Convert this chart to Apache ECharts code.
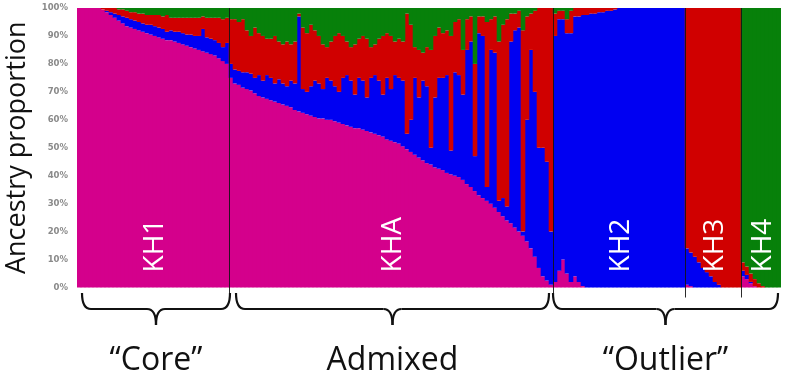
<!DOCTYPE html>
<html><head><meta charset="utf-8">
<script src="https://cdn.jsdelivr.net/npm/echarts@6/dist/echarts.min.js"></script>
<style>html,body{margin:0;padding:0;background:#fff;}#c{width:789px;height:390px;}</style>
</head><body><div id="c"></div>
<script>
// Groups of individuals (left to right)
const groupNames = ['KH1', 'KHA', 'KH2', 'KH3', 'KH4'];
const groupSizes = [38, 81, 33, 14, 10];
const sectionNames = ['\u201cCore\u201d', 'Admixed', '\u201cOutlier\u201d'];
const yTicks = [0, 10, 20, 30, 40, 50, 60, 70, 80, 90, 100];
const clusterNames = ['Cluster 1', 'Cluster 2', 'Cluster 3', 'Cluster 4'];
const clusterColors = ['#D4008C', '#0000F2', '#D00000', '#07800A'];

// Ancestry proportions (%) per individual, one array per cluster
const pink = [
  100,100,100,100,100,100,99.5,98.5,97.5,96.5,95.5,94.5,93.5,93,92.5,92,91.5,91,90.5,90,89.5,89,88.5,88.5,88,87.5,87,86.5,86,85.5,85,84.5,84,83.5,83,82,81,80,
  75,73,72.5,71.5,71,70.5,69.5,68.5,68,67.5,67,66.5,66,65.5,65,64.5,63.5,63,62.5,62,61.5,61,60.5,60.5,60,60,59.5,59,58.5,58,57.5,57,57,56.5,56,55.5,55,54.5,54,53,52.5,52,51.5,50.5,49.5,48.5,47.5,46.5,45.5,44.5,44,43,42.5,42,41,40.5,40,39.5,38.5,37,36,34.5,33,32,31,30,28.5,27,25.5,24,23,21.5,20,18.5,16.5,14,11,7,4,2.5,1,
  2,6,10,5,2,4,2,0.5,0,0,0,0,0,0,0,0,0,0,0,0,0,0,0,0,0,0,0,0,0,0,0,0,0,
  1,0.5,0,0,0,0,0,0,0,0,0,0,0,0,
  4,3,1.5,0.5,0,0,0,0,0,0
];
const blue = [
  0,0,0,0,0,0,0,0.5,1,1.5,2,2.5,3,3,3,3,3,3,3.5,3.5,3.5,3.5,3,3.5,3.5,4,4,4,4.5,4.5,5,8,5.5,5.5,5.5,5.5,5,7.5,
  5,5,5,5.5,6,6,5.5,7.5,6,8.5,8,6.5,8.5,7.5,7,9.5,9.5,34,8.5,8,10.5,13,12.5,10.5,15,14,12.5,11,16.5,18,16.5,12,18,17.5,12,19.5,21,19.5,15,22,18.5,24,23.5,23.5,5.5,11.5,27.5,21.5,28.5,27.5,6,25,32.5,33,35,8.5,37,36.5,30.5,48,52,12.5,58,58,5,55,55.5,4,6.5,5,65,70.5,73,1.5,43.5,71,59,43,46,42.5,19,
  88,90,86,86,89,93,95,97,97.5,98,98,98.5,98.5,99,99,99.5,100,100,100,100,100,100,100,100,100,100,100,100,100,100,100,100,100,
  13,12,11,9,7,5.5,4,2,1,0,0,0,0,0,
  2,1.5,0.5,0,0,0,0,0,0,0
];
const red = [
  0,0,0,0,0,0,0.5,1,1.5,2,2,2.5,2.5,2.5,3,3,3.5,3.5,3.5,4,4.5,4.5,6,4.5,5,5,5.5,6,6,6.5,6.5,4.5,7,7.5,8,9,10,9,
  16,18,17.5,19,15,13.5,18,15,16,13,14,17,13.5,14,16,13,15,1,22,21,22,18,17,16,11,14,18,21,15,12,12,18,14,16,21,11,11,15,21,16,19,12,14,14,43,34,11,17,10,14,35,22,18,16,16,41,18,20,16,11,9,33,6,7,59,11,13,57,62,67,10,6,6,72,37,13,29,50,50,55,80,
  8,3,3,5,8,3,3,2.5,2.5,2,2,1.5,1.5,1,1,0.5,0,0,0,0,0,0,0,0,0,0,0,0,0,0,0,0,0,
  86,87.5,89,91,93,94.5,96,98,99,100,100,100,100,100,
  3,3,3,2.5,1.5,0.5,0,0,0,0
];
const green = [
  0,0,0,0,0,0,0,0,0,0,0.5,0.5,1,1.5,1.5,2,2,2.5,2.5,2.5,2.5,3,2.5,3.5,3.5,3.5,3.5,3.5,3.5,3.5,3.5,3,3.5,3.5,3.5,3.5,4,3.5,
  4,4,5,4,8,10,7,9,10,11,11,10,12,13,12,13,12,2,7,9,6,8,10,13,14,12,10,9,10,12,14,13,11,10,11,14,13,11,10,9,10,12,11,12,2,6,14,15,16,14,15,10,7,9,8,10,5,4,15,4,3,20,3,3,5,4,3,12,6,4,2,2,1,8,3,2,1,0,0,0,0,
  2,1,1,4,1,0,0,0,0,0,0,0,0,0,0,0,0,0,0,0,0,0,0,0,0,0,0,0,0,0,0,0,0,
  0,0,0,0,0,0,0,0,0,0,0,0,0,0,
  91,92.5,95,97,98.5,99.5,100,100,100,100
];

// category labels (individual ids)
const individuals = [];
groupNames.forEach((g, gi) => { for (let k = 1; k <= groupSizes[gi]; k++) individuals.push(g + '-' + k); });

const chart = echarts.init(document.getElementById('c'), null, { renderer: 'canvas' });
const FONT = '"Open Sans", "Noto Sans", sans-serif';
const seriesData = [pink, blue, red, green];

chart.setOption({
  animation: false,
  backgroundColor: '#fff',
  grid: { left: 77, right: 8, top: 8, bottom: 102.5, containLabel: false, outerBoundsMode: 'none' },
  xAxis: {
    type: 'category', data: individuals,
    axisLine: { show: false }, axisTick: { show: false }, axisLabel: { show: false }, splitLine: { show: false }
  },
  yAxis: {
    type: 'value', min: 0, max: 100, interval: 10,
    name: 'Ancestry proportion', nameLocation: 'middle', nameRotate: 90, nameGap: 40,
    nameTextStyle: { fontFamily: FONT, fontSize: 27, color: '#111' },
    axisLine: { show: false }, axisTick: { show: false }, splitLine: { show: false },
    axisLabel: { formatter: '{value}%', fontSize: 8.5, color: '#8a8a8a', fontFamily: 'DejaVu Sans', fontWeight: 'bold', margin: 9 }
  },
  series: clusterNames.map((n, si) => ({
    name: n, type: 'bar', stack: 'q', data: seriesData[si],
    barWidth: 4.6,
    itemStyle: { color: clusterColors[si], borderWidth: 0 },
    emphasis: { disabled: true }
  }))
});

function drawAnnotations() {
  const px = i => chart.convertToPixel({ xAxisIndex: 0 }, individuals[i]);
  const band = px(1) - px(0);
  const yTop = chart.convertToPixel({ yAxisIndex: 0 }, 100);
  const yBot = chart.convertToPixel({ yAxisIndex: 0 }, 0);
  const bounds = [];
  let idx = 0;
  bounds.push(px(0) - band / 2);
  groupSizes.forEach(s => { idx += s; bounds.push(px(idx - 1) + band / 2); });
  const els = [];
  const stroke = { stroke: '#111', fill: null, lineWidth: 2.2 };
  // separators between groups
  for (let b = 1; b < bounds.length - 1; b++) {
    const x = Math.round(bounds[b]) + 0.5;
    els.push({ type: 'line', shape: { x1: x, y1: yTop, x2: x, y2: yBot + 10 }, style: { stroke: 'rgba(20,20,20,0.9)', lineWidth: 1 }, z: 100 });
  }
  // group labels
  groupNames.forEach((g, gi) => {
    const cx = (bounds[gi] + bounds[gi + 1]) / 2 + 2;
    els.push({ type: 'text', x: cx, y: yBot - 15, rotation: Math.PI / 2,
      style: { text: g, fill: '#fff', font: '28px ' + FONT, align: 'left', verticalAlign: 'middle' }, z: 100 });
  });
  // braces
  const left = bounds[0], right = bounds[bounds.length - 1];
  const spans = [
    [left + 5, bounds[1] + 1],
    [bounds[1] + 7, bounds[2] - 4],
    [bounds[2], right - 3]
  ];
  const y0 = yBot + 5.5, y1 = yBot + 21.5, y2 = yBot + 37.5, r = 9;
  spans.forEach((sp, si) => {
    const xa = sp[0], xb = sp[1], xm = (xa + xb) / 2;
    els.push({ type: 'bezierCurve', shape: { x1: xa, y1: y0, cpx1: xa, cpy1: y1, x2: xa + r, y2: y1 }, style: stroke, z: 100 });
    els.push({ type: 'line', shape: { x1: xa + r, y1: y1, x2: xm - r, y2: y1 }, style: stroke, z: 100 });
    els.push({ type: 'bezierCurve', shape: { x1: xm - r, y1: y1, cpx1: xm, cpy1: y1, x2: xm, y2: y2 }, style: stroke, z: 100 });
    els.push({ type: 'bezierCurve', shape: { x1: xm, y1: y2, cpx1: xm, cpy1: y1, x2: xm + r, y2: y1 }, style: stroke, z: 100 });
    els.push({ type: 'line', shape: { x1: xm + r, y1: y1, x2: xb - r, y2: y1 }, style: stroke, z: 100 });
    els.push({ type: 'bezierCurve', shape: { x1: xb - r, y1: y1, cpx1: xb, cpy1: y1, x2: xb, y2: y0 }, style: stroke, z: 100 });
    els.push({ type: 'text', x: xm, y: yBot + 73, style: { text: sectionNames[si], fill: '#111', font: '32px ' + FONT, align: 'center', verticalAlign: 'middle' }, z: 100 });
  });
  chart.setOption({ graphic: { elements: els } });
}
drawAnnotations();
</script>
</body></html>
